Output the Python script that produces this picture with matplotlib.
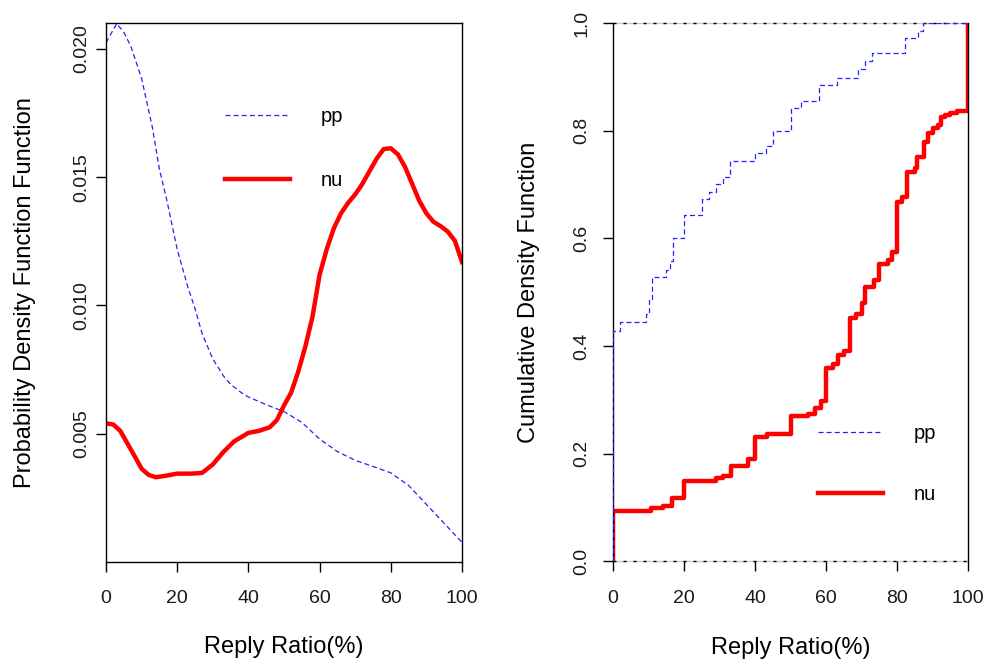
import matplotlib
matplotlib.use("Agg")
import matplotlib.pyplot as plt

plt.rcParams['font.family'] = ['Liberation Sans', 'DejaVu Sans']

# density estimates (left panel)
pp_x = [0, 3, 5, 7, 10, 13, 15, 17, 20, 23, 25, 27, 30, 33, 35, 38, 40, 45, 50,
        55, 60, 65, 70, 75, 80, 85, 90, 95, 100]
pp_y = [0.02025, 0.02099, 0.02066, 0.0201, 0.01885, 0.01696, 0.01531, 0.01416,
        0.01219, 0.01071, 0.00988, 0.0089, 0.00791, 0.00725, 0.00692, 0.0066,
        0.00643, 0.00613, 0.00586, 0.00544, 0.00479, 0.0043, 0.00396, 0.00372,
        0.00347, 0.00298, 0.00224, 0.0015, 0.00076]

nu_x = [0, 2, 4, 6, 8, 10, 12, 14, 16, 20, 24, 27, 30, 33, 36, 40, 43, 46, 48, 50,
        52, 54, 56, 58, 60, 62, 64, 66, 68, 70, 72, 74, 76, 78, 80, 82, 84, 86,
        88, 90, 92, 94, 96, 98, 100]
nu_y = [0.0054, 0.00536, 0.00511, 0.00462, 0.00413, 0.00363, 0.00339, 0.0033,
        0.00334, 0.00344, 0.00344, 0.00347, 0.0038, 0.00429, 0.0047, 0.00503,
        0.00511, 0.00525, 0.00553, 0.0061, 0.0066, 0.00742, 0.0084, 0.00956,
        0.0112, 0.01219, 0.01301, 0.01359, 0.014, 0.01433, 0.01474, 0.01523,
        0.01572, 0.0161, 0.01613, 0.01589, 0.0154, 0.01474, 0.01408, 0.01359,
        0.01326, 0.01309, 0.01288, 0.01252, 0.01169]

# empirical CDFs (right panel): jump positions and levels after each jump
pp_cx = [0, 2, 9.3, 10, 11, 15, 16, 17, 20, 25, 27, 29, 31, 33, 40, 43, 45, 50,
         53, 58, 63, 69, 71, 73, 82.3, 86, 87.2]
pp_cy = [0.428, 0.444, 0.46, 0.487, 0.529, 0.542, 0.558, 0.6, 0.644, 0.673,
         0.687, 0.701, 0.715, 0.744, 0.758, 0.772, 0.8, 0.843, 0.856, 0.885,
         0.899, 0.914, 0.929, 0.944, 0.972, 0.986, 1.0]

nu_cx = [0, 10.8, 14, 16.5, 20, 29, 31, 33.3, 38, 40, 43.5, 50, 55, 57, 58.5, 60,
         62, 63.5, 65, 66.7, 68.5, 70, 71, 73.5, 75, 77.5, 78.5, 80, 81.5, 82.7,
         85, 85.7, 87.5, 88.7, 90, 91.5, 92.5, 93.5, 95, 97, 100]
nu_cy = [0.094, 0.099, 0.102, 0.117, 0.149, 0.155, 0.158, 0.177, 0.19, 0.23,
         0.236, 0.27, 0.273, 0.284, 0.297, 0.36, 0.366, 0.384, 0.39, 0.452, 0.46,
         0.48, 0.51, 0.522, 0.553, 0.56, 0.575, 0.667, 0.677, 0.724, 0.73, 0.752,
         0.78, 0.795, 0.805, 0.81, 0.825, 0.83, 0.834, 0.836, 1.0]

xticks = [0, 20, 40, 60, 80, 100]
pdf_ticks = [0.005, 0.010, 0.015, 0.020]
cdf_ticks = [0.0, 0.2, 0.4, 0.6, 0.8, 1.0]

BLUE = '#2222ff'
RED = '#ff0000'

fig = plt.figure(figsize=(9.87, 6.61), dpi=100)
ax1 = fig.add_axes([0.1074, 0.150, 0.3607, 0.8154])
ax2 = fig.add_axes([0.6211, 0.151, 0.3597, 0.8139])


def style(ax, ypad):
    ax.tick_params(axis='both', direction='out', length=7.5, width=1,
                   labelsize=14, color='black', labelcolor='#1a1a1a')
    ax.tick_params(axis='x', pad=13)
    ax.tick_params(axis='y', pad=ypad)
    for lab in ax.get_yticklabels():
        lab.set_rotation(90)
        lab.set_va('center')
    ax.xaxis.label.set_va('center')
    ax.yaxis.label.set_va('center')


# ---- left: PDF ----
ax1.plot(pp_x, pp_y, color=BLUE, lw=0.9, dashes=(4, 2.5), label='pp')
ax1.plot(nu_x, nu_y, color=RED, lw=3.2, label='nu')
ax1.set_xlim(0, 100)
ax1.set_ylim(0, 0.02102)
ax1.set_xticks(xticks)
ax1.set_yticks(pdf_ticks)
ax1.set_yticklabels(['%.3f' % t for t in pdf_ticks])
for s in ax1.spines.values():
    s.set_linewidth(1)
ax1.set_xlabel('Reply Ratio(%)', fontsize=17)
ax1.set_ylabel('Probability Density Function Function', fontsize=17)
style(ax1, 4)
ax1.xaxis.set_label_coords(0.5, -0.158)
ax1.yaxis.set_label_coords(-0.228, 0.5)
ax1.legend(loc='upper left', bbox_to_anchor=(0.334, 0.844), frameon=False,
           fontsize=14.5, handlelength=3.25, handletextpad=1.5,
           labelspacing=2.25, borderpad=0, borderaxespad=0)

# ---- right: CDF ----
for h in (0, 1):
    ax2.axhline(h, color='#c8c8c8', lw=1, zorder=1, clip_on=False)
    ax2.axhline(h, color='black', lw=1, dashes=(2.2, 5), zorder=1, clip_on=False)
ax2.step([0] + pp_cx + [105], [0] + pp_cy + [1.0], where='post', color=BLUE,
         lw=0.9, dashes=(4, 2.5), label='pp', zorder=3)
ax2.step([0] + nu_cx + [105], [0] + nu_cy + [1.0], where='post', color=RED,
         lw=3.2, label='nu', zorder=2)
ax2.set_xlim(0, 100)
ax2.set_ylim(0, 1)
ax2.set_xticks(xticks)
ax2.set_yticks(cdf_ticks)
ax2.set_yticklabels(['%.1f' % t for t in cdf_ticks])
ax2.spines['top'].set_visible(False)
ax2.spines['bottom'].set_visible(False)
for s in ('left', 'right'):
    ax2.spines[s].set_linewidth(1)
ax2.set_xlabel('Reply Ratio(%)', fontsize=17)
ax2.set_ylabel('Cumulative Density Function', fontsize=17)
style(ax2, 9)
ax2.xaxis.set_label_coords(0.5, -0.161)
ax2.yaxis.set_label_coords(-0.238, 0.5)
ax2.legend(loc='upper left', bbox_to_anchor=(0.577, 0.255), frameon=False,
           fontsize=14.5, handlelength=3.25, handletextpad=1.5,
           labelspacing=2.1, borderpad=0, borderaxespad=0)

fig.savefig('out.png', dpi=100)
